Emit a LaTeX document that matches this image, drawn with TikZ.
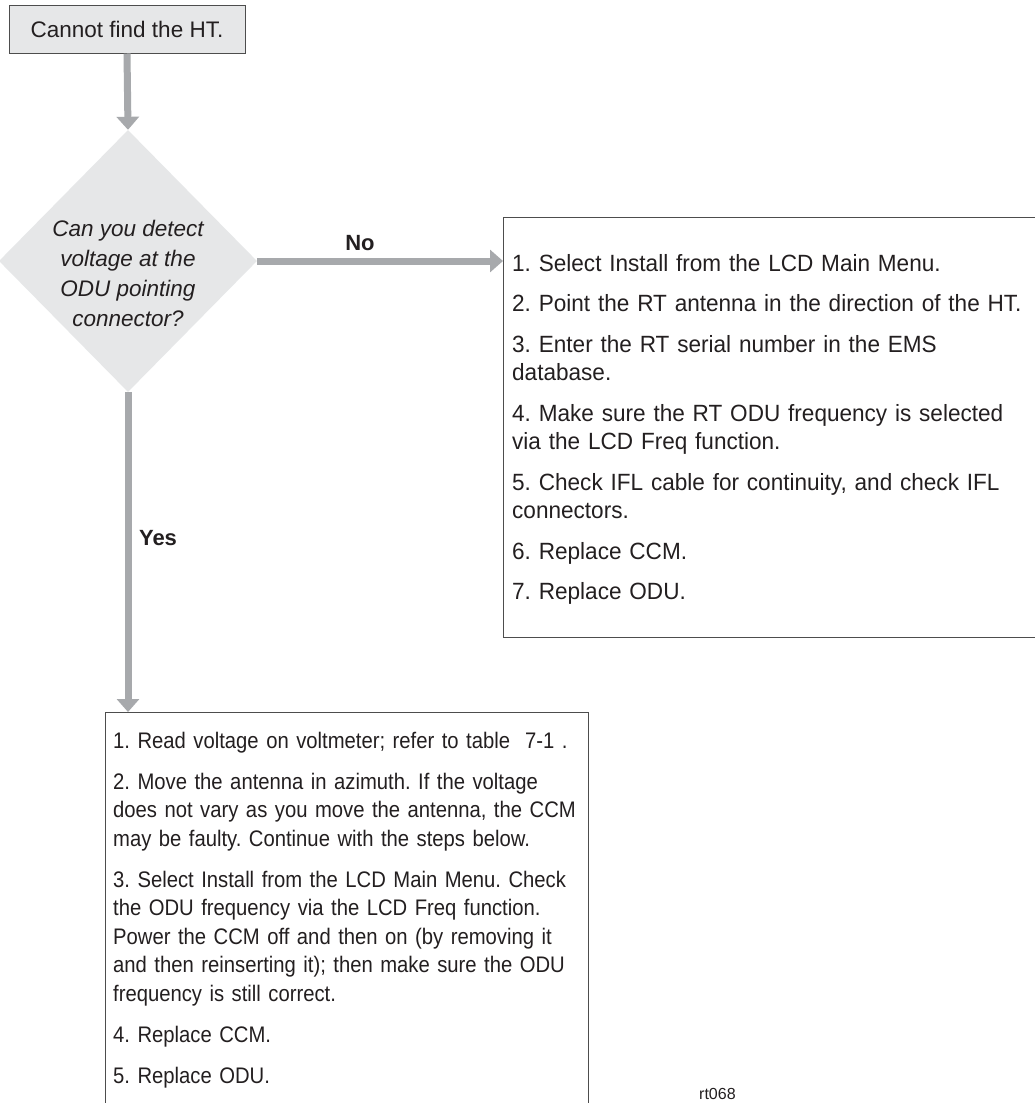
\documentclass[tikz,border=0pt]{standalone}
\usepackage{fontspec}
\setmainfont{Liberation Sans}
\newfontfamily\rightlistfont[FakeStretch=0.96]{Liberation Sans}
\newfontfamily\bottomlistfont[FakeStretch=0.9]{Liberation Sans}
\usetikzlibrary{shapes.geometric,arrows.meta,calc}
\definecolor{ink}{HTML}{231F20}
\definecolor{flow}{HTML}{A7A9AC}
\definecolor{pale}{HTML}{E6E7E8}
\definecolor{frame}{HTML}{4D4D4D}
\begin{document}
\frenchspacing
\begin{tikzpicture}[x=1pt,y=-1pt,
  every node/.style={text=ink},
  startbox/.style={draw=frame, line width=1pt, fill=pale, minimum width=236pt, minimum height=48pt, inner sep=0pt, font=\fontsize{22.5}{27}\selectfont},
  decision/.style={diamond, fill=pale, draw=none, minimum width=258pt, minimum height=262pt, inner sep=0pt},
  dectext/.style={align=center, inner sep=0pt, font=\fontsize{22.5}{30}\selectfont\itshape},
  listbox/.style={draw=frame, line width=1pt, fill=white, inner sep=0pt},
  listtext/.style={text width=530pt, align=left, inner sep=0pt},
  flowarrow/.style={draw=flow, line width=7pt, -{Triangle[length=13pt,width=22pt]}},
  answer/.style={font=\fontsize{22}{26}\selectfont\bfseries, inner sep=0pt, anchor=base},
]
\useasboundingbox[fill=white] (0,0) rectangle (1034,1103);

% boxes
\node[startbox] (start) at (127,29) {Cannot find the HT.};
\node[decision] (dec) at (128,261) {};
\node[dectext, anchor=north] (dectxt) at ($(dec.center)+(0,-41)$) {Can you detect\\voltage at the\\ODU pointing\\connector?};

\node[listbox, anchor=north west, minimum width=545pt, minimum height=420pt] (nobox) at (503,217) {};
\node[listtext, anchor=north west, font=\rightlistfont\fontsize{23.5}{28.5}\selectfont] (notext) at ($(nobox.north west)+(9,34)$) {\strut 1. Select Install from the LCD Main Menu.\\[12pt]
2. Point the RT antenna in the direction of the HT.\\[12pt]
3. Enter the RT serial number in the EMS\\database.\\[12pt]
4. Make sure the RT ODU frequency is selected\\via the LCD Freq function.\\[12pt]
5. Check IFL cable for continuity, and check IFL\\connectors.\\[12pt]
6. Replace CCM.\\[12pt]
7. Replace ODU.};

\node[listbox, anchor=north west, minimum width=483pt, minimum height=420pt] (yesbox) at (105,712) {};
\node[listtext, anchor=north west, font=\bottomlistfont\fontsize{22.5}{28.5}\selectfont] (yestext) at ($(yesbox.north west)+(8,16)$) {\strut 1. Read voltage on voltmeter; refer to table\ \ 7-1 .\\[12.5pt]
2. Move the antenna in azimuth. If the voltage\\does not vary as you move the antenna, the CCM\\may be faulty. Continue with the steps below.\\[12.5pt]
3. Select Install from the LCD Main Menu. Check\\the ODU frequency via the LCD Freq function.\\Power the CCM off and then on (by removing it\\and then reinserting it); then make sure the ODU\\frequency is still correct.\\[12.5pt]
4. Replace CCM.\\[12.5pt]
5. Replace ODU.};

% connectors
\draw[flowarrow] (start.south) -- (dec.north);
\draw[flowarrow] (dec.east) -- (dec.east -| nobox.west);
\draw[flowarrow] (dec.south) -- (dec.south |- yesbox.north);

% labels
\node[answer] (nolbl) at (360,250) {No};
\node[answer] (yeslbl) at (158,545) {Yes};
\node[anchor=base west, inner sep=0pt, font=\fontsize{16}{19}\selectfont] (figid) at (699,1099) {rt068};
\end{tikzpicture}
\end{document}
